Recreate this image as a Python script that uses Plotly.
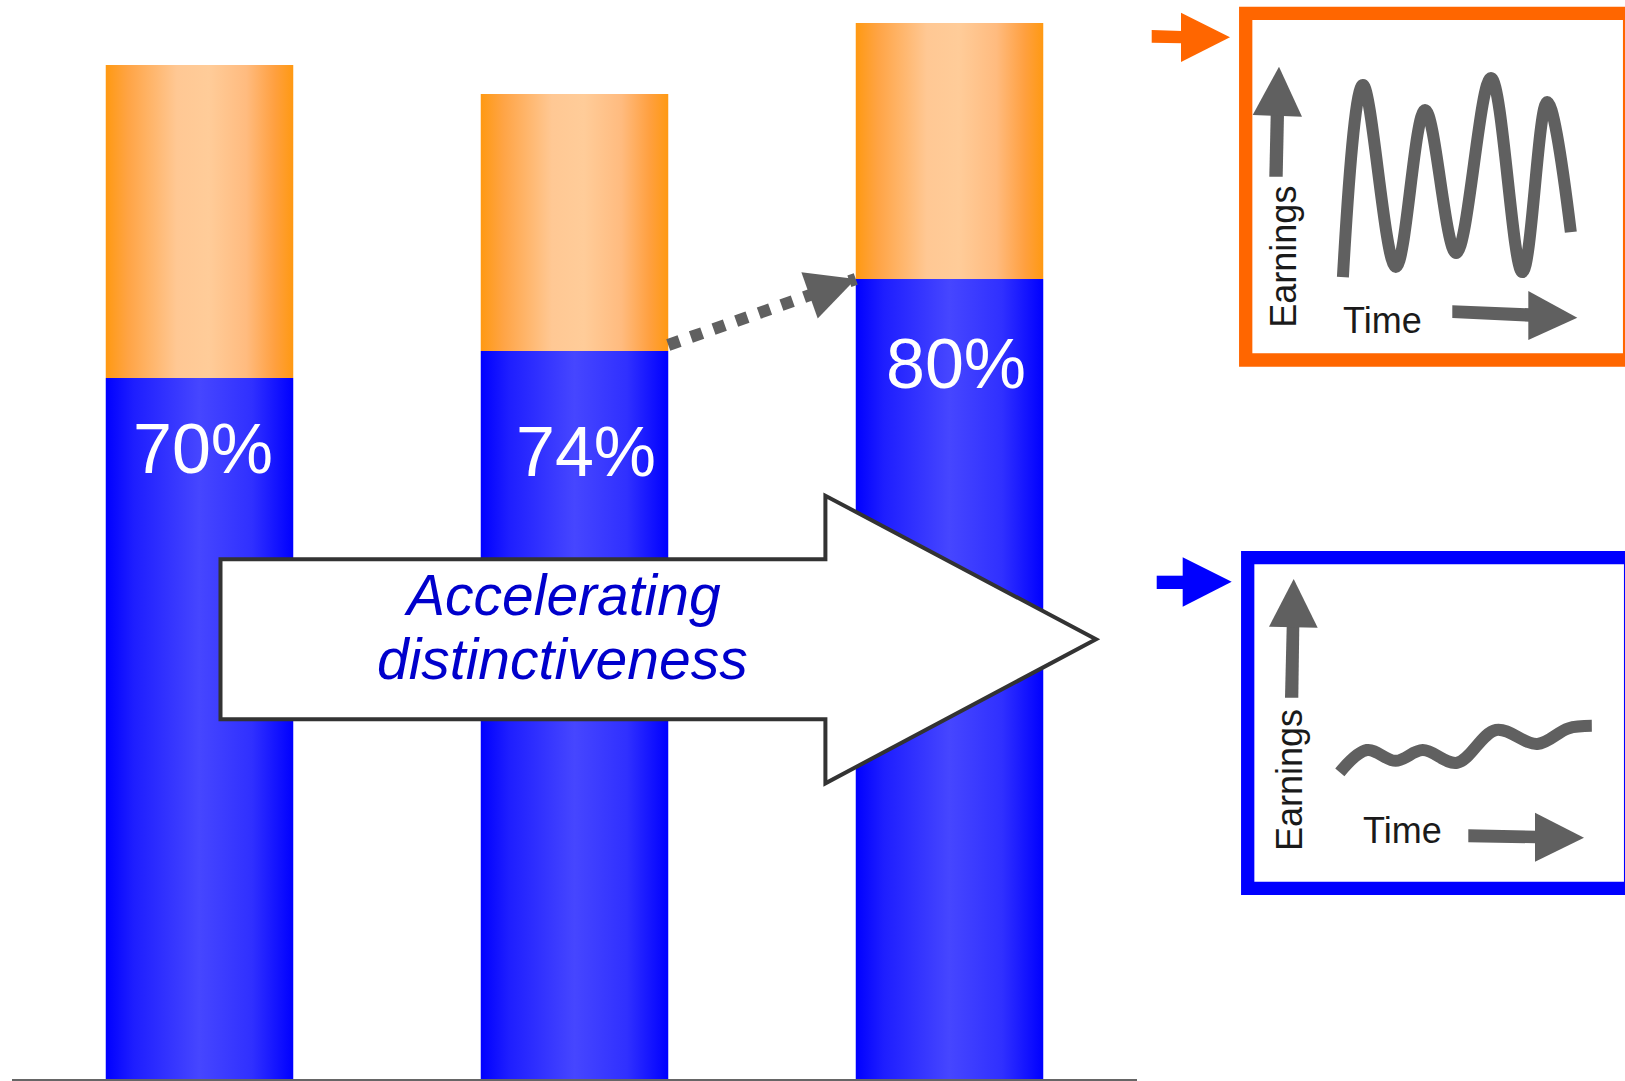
import plotly.graph_objects as go

W, H = 1625, 1081

# ---------------- data ----------------
categories = ["Period 1", "Period 2", "Period 3"]
blue_values = [70.1, 72.8, 80.0]        # lower (blue) segment
orange_values = [31.3, 25.7, 25.6]      # upper (orange) segment
pct_labels = ["70%", "74%", "80%"]

# illustrative earnings-over-time curves (mini charts, 0-100 units)
volatile_time = [24.3, 29.7, 38.6, 46.5, 54.9, 64.3, 72.8, 79.5, 85.9]
volatile_earn = [22.8, 80.5, 25.8, 73.0, 30.0, 82.6, 24.3, 75.4, 36.3]
stable_time = [23.2, 30.5, 38.3, 45.6, 54.9, 65.4, 76.6, 84.9, 91.3]
stable_earn = [34.5, 41.5, 38.1, 41.5, 37.5, 47.8, 43.4, 48.3, 49.1]

# ---------------- styles ----------------
BLUE_CS = [[0, "#0000FF"], [0.15, "#1E1EFF"], [0.5, "#4646FF"], [0.78, "#3030FF"], [1, "#0000FF"]]
ORANGE_CS = [[0, "#FF9912"], [0.12, "#FFA445"], [0.38, "#FFC894"], [0.55, "#FFCC99"],
             [0.75, "#FFBB7F"], [0.9, "#FFA040"], [1, "#FF9912"]]
GRAY = "#606060"
BAR_W = 0.5
PX_PER_UNIT = 10.0


def P(px, py):
    return px / W, 1 - py / H


def poly_path(pts):
    s = ""
    for k, (px, py) in enumerate(pts):
        x, y = P(px, py)
        s += ("M" if k == 0 else "L") + f"{x:.5f},{y:.5f}"
    return s + "Z"


fig = go.Figure()

# stacked gradient bars
for i, cat in enumerate(categories):
    x0, x1 = i - BAR_W / 2, i + BAR_W / 2
    b = blue_values[i]
    o = orange_values[i]
    fig.add_trace(go.Scatter(
        x=[x0, x1, x1, x0, x0], y=[0, 0, b, b, 0], mode="lines", fill="toself",
        fillgradient=dict(type="horizontal", colorscale=BLUE_CS),
        line=dict(width=0), hoverinfo="skip", showlegend=False, name=cat))
    fig.add_trace(go.Scatter(
        x=[x0, x1, x1, x0, x0], y=[b, b, b + o, b + o, b], mode="lines", fill="toself",
        fillgradient=dict(type="horizontal", colorscale=ORANGE_CS),
        line=dict(width=0), hoverinfo="skip", showlegend=False, name=cat))

# dotted connector from bar 2 to bar 3
dot_w = 12
off = dot_w / 2 / PX_PER_UNIT
fig.add_trace(go.Scatter(
    x=[1 + BAR_W / 2, 2 - BAR_W / 2], y=[blue_values[1] + off, blue_values[2]],
    mode="lines", line=dict(color=GRAY, width=dot_w, dash="dot"),
    hoverinfo="skip", showlegend=False))

# mini charts
fig.add_trace(go.Scatter(
    x=volatile_time, y=volatile_earn, xaxis="x2", yaxis="y2", mode="lines",
    line=dict(color=GRAY, width=12, shape="spline", smoothing=1.0),
    hoverinfo="skip", showlegend=False))
fig.add_trace(go.Scatter(
    x=stable_time, y=stable_earn, xaxis="x3", yaxis="y3", mode="lines",
    line=dict(color=GRAY, width=12, shape="spline", smoothing=1.0),
    hoverinfo="skip", showlegend=False))

annotations = []
# percent labels
label_dx = [0.008, 0.03, 0.016]
label_y = [63.0, 62.7, 71.5]
for i, t in enumerate(pct_labels):
    annotations.append(dict(
        x=i + label_dx[i], y=label_y[i], xref="x", yref="y", text=t, showarrow=False,
        font=dict(family="Liberation Sans, Arial, sans-serif", size=70, color="white"),
        xanchor="center", yanchor="middle"))

# arrowhead of dotted connector
annotations.append(dict(
    x=2 - BAR_W / 2, y=blue_values[2], xref="x", yref="y", text="", showarrow=True,
    ax=-28.3, ay=10.0, arrowhead=2, arrowwidth=4, arrowsize=2.45, arrowcolor=GRAY,
    standoff=0))

# arrow text
for txt, py in [("Accelerating", 594.6), ("distinctiveness", 658.6)]:
    x, y = P(562, py)
    annotations.append(dict(
        x=x, y=y, xref="paper", yref="paper", text=f"<i>{txt}</i>", showarrow=False,
        font=dict(family="Liberation Sans, Arial, sans-serif", size=57, color="#0000CC"),
        xanchor="center", yanchor="middle"))

# mini chart labels
for txt, px, py, ang in [("Earnings", 1284, 256.7, -90), ("Time", 1382, 320.5, 0),
                         ("Earnings", 1289, 780, -90), ("Time", 1402.5, 830.8, 0)]:
    x, y = P(px, py)
    annotations.append(dict(
        x=x, y=y, xref="paper", yref="paper", text=txt, showarrow=False, textangle=ang,
        font=dict(family="Liberation Sans, Arial, sans-serif", size=36, color="#1a1a1a"),
        xanchor="center", yanchor="middle"))

shapes = []
# big white arrow
shapes.append(dict(
    type="path", xref="paper", yref="paper",
    path=poly_path([(220.5, 559.3), (825.4, 559.3), (825.4, 495.7), (1096, 639.3),
                    (825.4, 783.3), (825.4, 719.3), (220.5, 719.3)]),
    fillcolor="white", line=dict(color="#333333", width=4)))

# boxes
for (x0, y0, x1, y1, col) in [(1245.7, 13.4, 1629.6, 360, "#FF6600"),
                              (1247.7, 557.7, 1630.6, 888.4, "#0000FF")]:
    a, b = P(x0, y1)
    c, d = P(x1, y0)
    shapes.append(dict(type="rect", xref="paper", yref="paper", x0=a, y0=b, x1=c, y1=d,
                       line=dict(color=col, width=13.3), fillcolor="rgba(0,0,0,0)"))

polys = [
    # orange pointer
    ([(1151.7, 30), (1182, 31), (1182, 43.3), (1151.7, 42.7)], "#FF6600"),
    ([(1181, 12.7), (1230, 37.3), (1181, 62)], "#FF6600"),
    # blue pointer
    ([(1156.7, 575.7), (1184, 575.7), (1184, 589), (1156.7, 589)], "#0000FF"),
    ([(1182.7, 557.3), (1231.7, 581.7), (1182.7, 606.7)], "#0000FF"),
    # orange box axes
    ([(1269.3, 176.7), (1282.7, 176.7), (1284, 114), (1270.7, 114)], GRAY),
    ([(1252.7, 115), (1302, 116.7), (1279, 66.7)], GRAY),
    ([(1452.3, 305.3), (1530, 308.3), (1530, 321.7), (1452.3, 318)], GRAY),
    ([(1528.3, 291), (1577.3, 317.7), (1528.3, 340)], GRAY),
    # blue box axes
    ([(1285, 697.7), (1298.3, 697.7), (1299.3, 626), (1286.7, 626)], GRAY),
    ([(1269, 626.7), (1317.7, 627.7), (1293.7, 579)], GRAY),
    ([(1468.3, 829.3), (1536, 830.7), (1536, 843.3), (1468.3, 842.3)], GRAY),
    ([(1535, 812.7), (1584, 837.7), (1535, 861.7)], GRAY),
]
for pts, col in polys:
    shapes.append(dict(type="path", xref="paper", yref="paper", path=poly_path(pts),
                       fillcolor=col, line=dict(width=0)))

hidden = dict(visible=False, showgrid=False, zeroline=False, fixedrange=True)
fig.update_layout(
    width=W, height=H, autosize=False,
    margin=dict(l=0, r=0, t=0, b=0, pad=0),
    paper_bgcolor="white", plot_bgcolor="white",
    showlegend=False,
    xaxis=dict(domain=[12 / W, 1137 / W], range=[-0.5, 2.5], showline=True,
               linecolor="#666666", linewidth=2, showticklabels=False, ticks="",
               showgrid=False, zeroline=False, fixedrange=True),
    yaxis=dict(domain=[1 - 1079 / H, 1], range=[0, 1079 / PX_PER_UNIT], visible=False,
               showgrid=False, zeroline=False, fixedrange=True),
    xaxis2=dict(domain=[1253 / W, 1623 / W], range=[0, 100], anchor="y2", **hidden),
    yaxis2=dict(domain=[1 - 353 / H, 1 - 20 / H], range=[0, 100], anchor="x2", **hidden),
    xaxis3=dict(domain=[1254 / W, 1624 / W], range=[0, 100], anchor="y3", **hidden),
    yaxis3=dict(domain=[1 - 882 / H, 1 - 564 / H], range=[0, 100], anchor="x3", **hidden),
    shapes=shapes,
    annotations=annotations,
)

fig.write_html("out.html", config={"displayModeBar": False},
               post_script="document.body.style.margin='0';document.body.style.overflow='hidden';")
